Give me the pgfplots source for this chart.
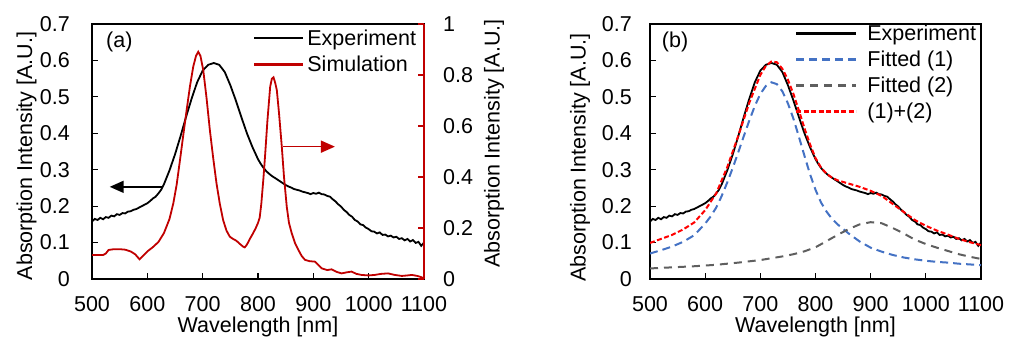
\documentclass[border=0pt]{standalone}
\usepackage{pgfplots}
\usepackage{pgfplotstable}
\pgfplotsset{compat=1.18}
\usetikzlibrary{arrows.meta}
\usepackage{fontspec}
\setmainfont{Liberation Sans}
\newcommand{\fs}{\fontsize{21.5pt}{25pt}\selectfont}
\definecolor{simred}{RGB}{192,0,0}
\definecolor{fitblue}{RGB}{68,114,196}
\definecolor{fitgray}{RGB}{95,95,95}
\definecolor{sumred}{RGB}{255,0,0}

\pgfplotstableread{
x y
500 0.158
505 0.165
510 0.162
515 0.168
520 0.164
525 0.170
530 0.168
535 0.174
540 0.172
545 0.178
550 0.176
555 0.181
560 0.180
565 0.185
570 0.186
575 0.190
580 0.192
585 0.196
590 0.200
595 0.204
600 0.208
605 0.214
610 0.221
615 0.226
620 0.235
625 0.245
630 0.260
640 0.298
650 0.342
660 0.392
670 0.445
680 0.495
690 0.540
700 0.572
710 0.588
720 0.593
730 0.588
740 0.568
750 0.532
760 0.490
770 0.444
780 0.400
790 0.362
800 0.329
805 0.316
810 0.305
815 0.296
820 0.289
825 0.283
830 0.278
835 0.273
840 0.268
845 0.263
850 0.258
855 0.254
860 0.251
865 0.247
870 0.245
875 0.243
880 0.240
885 0.238
890 0.236
895 0.233
900 0.236
905 0.234
910 0.237
915 0.233
920 0.232
925 0.228
930 0.226
935 0.219
940 0.213
945 0.205
950 0.199
955 0.190
960 0.184
965 0.176
970 0.171
975 0.162
980 0.158
985 0.150
990 0.148
995 0.141
1000 0.137
1005 0.131
1010 0.130
1015 0.125
1020 0.128
1025 0.121
1030 0.122
1035 0.117
1040 0.119
1045 0.114
1050 0.116
1055 0.110
1060 0.112
1065 0.106
1070 0.110
1075 0.103
1080 0.107
1085 0.099
1090 0.102
1095 0.091
1100 0.100
}\exptab

\pgfplotstableread{
x y
500 0.094
510 0.094
520 0.094
525 0.100
530 0.114
540 0.117
550 0.117
560 0.115
570 0.108
578 0.097
586 0.077
592 0.090
600 0.108
610 0.125
620 0.145
630 0.180
640 0.235
647 0.297
653 0.370
659 0.466
665 0.565
671 0.662
677 0.755
683 0.833
688 0.875
692 0.891
696 0.875
701 0.820
707 0.710
713 0.584
719 0.475
725 0.375
731 0.295
737 0.231
743 0.190
749 0.166
755 0.157
761 0.150
767 0.138
773 0.127
776 0.124
780 0.135
786 0.160
791 0.179
796 0.200
800 0.220
803 0.240
806 0.295
810 0.400
813 0.490
817 0.620
822 0.754
825 0.785
828 0.791
831 0.770
834 0.741
838 0.650
843 0.519
847 0.400
852 0.283
856 0.220
861 0.179
867 0.140
873 0.114
879 0.090
885 0.075
893 0.070
903 0.068
909 0.055
915 0.042
925 0.035
933 0.038
942 0.028
951 0.022
960 0.026
969 0.029
978 0.020
987 0.016
1000 0.014
1011 0.016
1022 0.020
1035 0.022
1047 0.016
1060 0.012
1070 0.014
1078 0.016
1088 0.012
1094 0.008
1100 0.003
}\simtab

\pgfplotstableread{
x y
500 0.070
520 0.079
540 0.089
560 0.102
580 0.120
600 0.152
610 0.172
620 0.196
630 0.228
640 0.265
650 0.305
660 0.348
670 0.392
680 0.435
690 0.475
700 0.508
710 0.530
720 0.540
730 0.535
740 0.515
750 0.482
760 0.440
770 0.390
780 0.338
790 0.288
800 0.245
810 0.210
820 0.185
830 0.165
840 0.150
860 0.125
880 0.103
900 0.086
920 0.075
940 0.066
960 0.059
980 0.054
1000 0.050
1020 0.047
1040 0.045
1060 0.042
1080 0.040
1100 0.038
}\fitone

\pgfplotstableread{
x y
500 0.029
540 0.032
580 0.035
620 0.039
660 0.045
700 0.052
740 0.062
760 0.068
780 0.076
800 0.087
820 0.104
840 0.121
860 0.137
880 0.150
900 0.156
920 0.153
940 0.140
960 0.125
980 0.108
1000 0.096
1020 0.086
1040 0.077
1060 0.068
1080 0.061
1100 0.055
}\fittwo

\pgfplotstableread{
x y
500 0.099
520 0.110
540 0.121
560 0.136
580 0.155
600 0.189
620 0.235
640 0.307
660 0.393
680 0.484
700 0.560
710 0.585
720 0.597
730 0.595
740 0.577
750 0.547
760 0.508
770 0.462
780 0.414
790 0.370
800 0.332
810 0.306
820 0.289
830 0.278
840 0.271
860 0.262
880 0.253
900 0.242
920 0.228
940 0.206
960 0.184
980 0.162
1000 0.146
1020 0.133
1040 0.122
1060 0.110
1080 0.101
1100 0.093
}\fitsum

\pgfplotsset{
  common/.style={
    scale only axis, height=255pt,
    xmin=500, xmax=1100,
    xtick={500,600,700,800,900,1000,1100},
    tick align=inside, major tick length=6pt,
    /pgf/number format/assume math mode=true,
    /pgf/number format/1000 sep={},
    tick label style={font=\fs},
    tick style={line width=1.2pt, black},
    axis line style={line width=1.4pt},
  },
  withx/.style={
    xtick pos=left,
    xticklabel style={anchor=north, inner sep=0pt, yshift=-17.7pt},
    xlabel={Wavelength [nm]},
    every axis x label/.style={at={([yshift=-37.5pt]rel axis cs:0.5,0)}, anchor=north, inner sep=0pt, font=\fs},
  },
  lefty/.style={
    ymin=0, ymax=0.7,
    ytick={0,0.1,0.2,0.3,0.4,0.5,0.6,0.7},
    ytick pos=left,
    yticklabel style={anchor=east, inner sep=0pt, xshift=-#1},
    ylabel={Absorption Intensity [A.U.]},
  },
}

\begin{document}
\begin{tikzpicture}
\useasboundingbox (0pt,0pt) rectangle (1017pt,-342pt);

% ---------- panel (a), left axis ----------
\begin{axis}[common, withx, lefty=22pt,
  at={(92pt,-279pt)}, anchor=south west, width=332pt,
  every axis y label/.style={at={([xshift=-65.5pt,yshift=-4.5pt]rel axis cs:0,0.5)}, rotate=90, anchor=center, inner sep=0pt, font=\fs},
  legend cell align=left,
  legend image code/.code={\draw[#1, line width=2.4pt] (0pt,0pt) -- (49pt,0pt);},
  legend style={draw=none, fill=none, inner sep=0pt, outer sep=0pt, font=\fs,
    at={([xshift=161pt,yshift=-4pt]rel axis cs:0,1)}, anchor=north west,
    nodes={inner xsep=3pt, inner ysep=0pt, text height=17pt, text depth=3pt},
    /tikz/column sep=0pt, /tikz/row sep=6.5pt},
]
\addplot[black, line width=1.8pt] table[x=x,y=y] {\exptab};
\addlegendentry{Experiment}
\addlegendimage{simred, line width=1.8pt}
\addlegendentry{Simulation}
\draw[black, line width=1.6pt, -{Triangle[length=14pt,width=12pt]}] (axis cs:626,0.253) -- (axis cs:532,0.253);
\node[anchor=west, inner sep=0pt, font=\fs, xshift=14pt, yshift=-17.7pt] at (rel axis cs:0,1) {(a)};
\end{axis}

% ---------- panel (a), right axis ----------
\begin{axis}[common,
  at={(92pt,-279pt)}, anchor=south west, width=332pt,
  axis x line=none,
  axis y line*=right,
  tick align=inside,
  ymin=0, ymax=1,
  ytick={0,0.2,0.4,0.6,0.8,1},
  ytick style={simred, line width=1.2pt},
  y axis line style={simred, line width=1.4pt},
  yticklabel style={anchor=west, inner sep=0pt, xshift=19pt, black},
  ylabel={Absorption Intensity [A.U.]},
  every axis y label/.style={at={([xshift=70pt,yshift=8pt]rel axis cs:1,0.5)}, rotate=90, anchor=center, inner sep=0pt, font=\fs},
]
\addplot[simred, line width=1.8pt] table[x=x,y=y] {\simtab};
\draw[simred, line width=1.6pt, -{Triangle[length=14pt,width=12pt]}] (axis cs:846,0.519) -- (axis cs:939,0.519);
\end{axis}

% ---------- panel (b) ----------
\begin{axis}[common, withx, lefty=18pt,
  at={(650pt,-279pt)}, anchor=south west, width=331pt,
  every axis y label/.style={at={([xshift=-70pt,yshift=-6pt]rel axis cs:0,0.5)}, rotate=90, anchor=center, inner sep=0pt, font=\fs},
  legend cell align=left,
  legend image code/.code={\draw[#1, line width=2.4pt] (0pt,0pt) -- (60pt,0pt);},
  legend style={draw=none, fill=none, inner sep=0pt, outer sep=0pt, font=\fs,
    at={([xshift=145pt,yshift=0.5pt]rel axis cs:0,1)}, anchor=north west,
    nodes={inner xsep=3pt, inner ysep=0pt, text height=17pt, text depth=3pt},
    /tikz/column sep=7pt, /tikz/row sep=6pt},
]
\addplot[black, line width=1.8pt] table[x=x,y=y] {\exptab};
\addlegendentry{Experiment}
\addplot[fitblue, line width=2pt, dash pattern=on 8pt off 5pt] table[x=x,y=y] {\fitone};
\addlegendentry{Fitted (1)}
\addplot[fitgray, line width=2pt, dash pattern=on 8pt off 6pt] table[x=x,y=y] {\fittwo};
\addlegendentry{Fitted (2)}
\addplot[sumred, line width=2pt, dash pattern=on 5pt off 2.5pt] table[x=x,y=y] {\fitsum};
\addlegendentry{(1)+(2)}
\node[anchor=west, inner sep=0pt, font=\fs, xshift=11.7pt, yshift=-17.7pt] at (rel axis cs:0,1) {(b)};
\end{axis}
\end{tikzpicture}
\end{document}
